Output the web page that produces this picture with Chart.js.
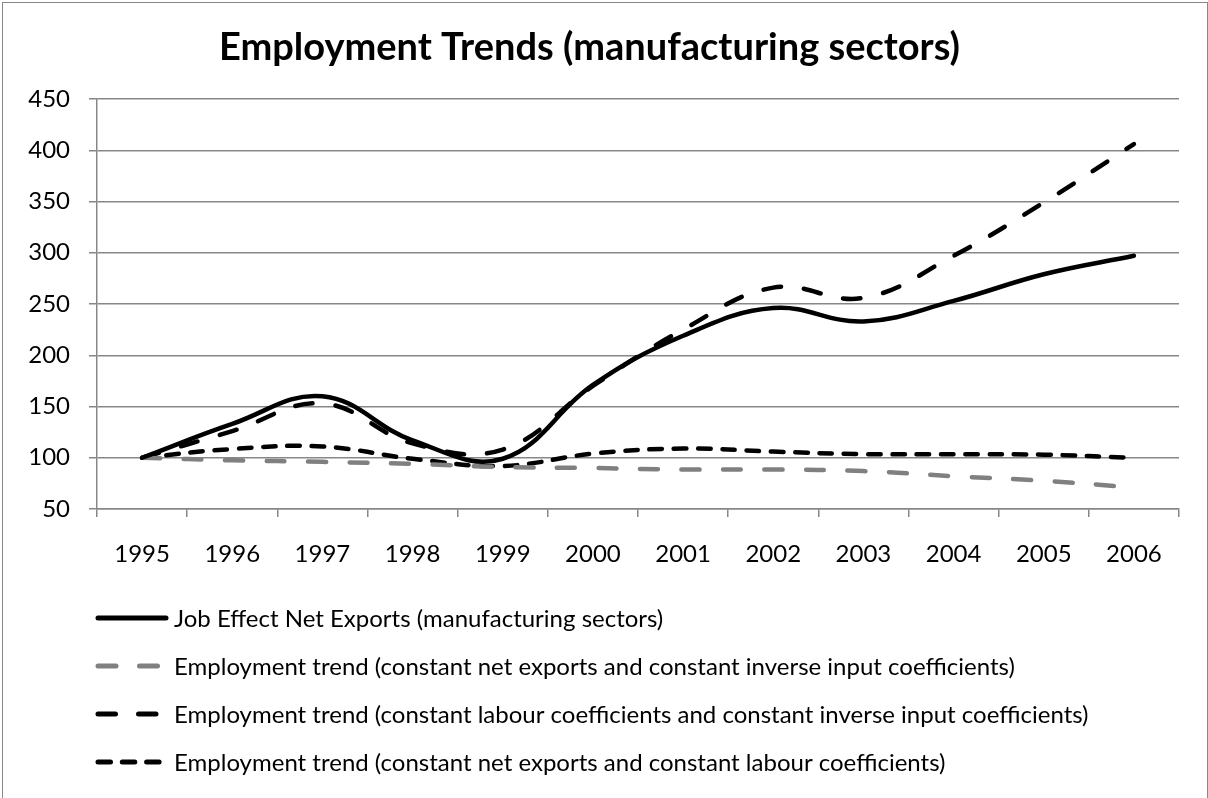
<!DOCTYPE html>
<html>
<head>
<meta charset="utf-8">
<title>Employment Trends (manufacturing sectors)</title>
<script src="https://cdn.jsdelivr.net/npm/chart.js@4"></script>
<style>
  html, body { margin: 0; padding: 0; background: #fff; }
  #wrap { position: relative; width: 1208px; height: 798px; overflow: hidden; }
  #frame { position: absolute; left: 2px; top: 2px; width: 1206px; height: 800px; box-sizing: border-box; border: 1px solid #888; pointer-events: none; }
</style>
</head>
<body>
<div id="wrap">
  <canvas id="chart" width="1208" height="798"></canvas>
  <div id="frame"></div>
</div>
<script>
// values
const years = ['1995', '1996', '1997', '1998', '1999', '2000', '2001', '2002', '2003', '2004', '2005', '2006'];
const jobEffect = [100, 133, 160, 117, 99, 171, 219, 246, 233, 253, 279, 297];
const constNetExportsInverse = [100, 97.5, 96, 94, 91, 90, 88.5, 88.5, 87, 82, 77.5, 71];
const constLabourInverse = [100, 126, 153, 114, 108, 170, 225, 266, 256, 297, 349, 406];
const constNetExportsLabour = [100, 108.5, 111, 99, 92, 104, 109, 106, 103.5, 103.5, 103, 100];
const yTicks = [50, 100, 150, 200, 250, 300, 350, 400, 450];

const seriesLabels = [
  'Job Effect Net Exports (manufacturing sectors)',
  'Employment trend (constant net exports and constant inverse input coefficients)',
  'Employment trend (constant labour coefficients and constant inverse input coefficients)',
  'Employment trend (constant net exports and constant labour coefficients)'
];

const FONT = 'Lato, "Open Sans", sans-serif';
const GRID = '#878787';

// legend drawn under the plot, one entry per row like the Excel original
const rowLegend = {
  id: 'rowLegend',
  afterDraw(chart) {
    const ctx = chart.ctx;
    ctx.save();
    ctx.font = '24px ' + FONT;
    ctx.textBaseline = 'middle';
    ctx.fillStyle = '#000';
    chart.data.datasets.forEach((ds, i) => {
      const y = 618 + i * 48;
      ctx.beginPath();
      ctx.lineWidth = 5;
      ctx.lineCap = 'round';
      ctx.strokeStyle = ds.borderColor;
      ctx.setLineDash(ds.borderDash || []);
      ctx.moveTo(98, y);
      ctx.lineTo(166, y);
      ctx.stroke();
      ctx.setLineDash([]);
      ctx.fillText(ds.label, 174, y + 1);
    });
    ctx.restore();
  }
};

const common = { fill: false, pointRadius: 0, pointHoverRadius: 0, borderWidth: 4.5, tension: 0.4, borderCapStyle: 'round', borderJoinStyle: 'round' };

new Chart(document.getElementById('chart'), {
  type: 'line',
  data: {
    labels: years,
    datasets: [
      Object.assign({ label: seriesLabels[0], data: jobEffect, borderColor: '#000' }, common),
      Object.assign({ label: seriesLabels[1], data: constNetExportsInverse, borderColor: '#808080', borderDash: [18, 23.5] }, common),
      Object.assign({ label: seriesLabels[2], data: constLabourInverse, borderColor: '#000', borderDash: [17.5, 23] }, common),
      Object.assign({ label: seriesLabels[3], data: constNetExportsLabour, borderColor: '#000', borderDash: [12.5, 11.8] }, common)
    ]
  },
  options: {
    responsive: false,
    animation: false,
    devicePixelRatio: 1,
    layout: { padding: { left: 0, right: 29, top: 0, bottom: 229 } },
    plugins: {
      legend: { display: false },
      tooltip: { enabled: false },
      title: {
        display: true,
        text: 'Employment Trends (manufacturing sectors)',
        color: '#000',
        font: { family: FONT, size: 38, weight: 'bold', lineHeight: 1.2 },
        padding: { top: 25, bottom: 28.4 }
      }
    },
    scales: {
      x: {
        offset: true,
        grid: { offset: true, drawOnChartArea: false, drawTicks: true, tickLength: 8, color: GRID, lineWidth: 1.5 },
        border: { display: true, color: GRID, width: 1.5 },
        ticks: { color: '#000', font: { family: FONT, size: 24 }, padding: 23, maxRotation: 0, autoSkip: false },
        afterFit(scale) { scale.height = 60; }
      },
      y: {
        min: 50,
        max: 450,
        afterBuildTicks(scale) { scale.ticks = yTicks.map(v => ({ value: v })); },
        grid: { color: GRID, lineWidth: 1.5, tickLength: 8, drawTicks: true },
        border: { display: true, color: GRID, width: 1.5 },
        ticks: { color: '#000', font: { family: FONT, size: 24 }, padding: 19 },
        afterFit(scale) { scale.width = 97; }
      }
    }
  },
  plugins: [rowLegend]
});
</script>
</body>
</html>
